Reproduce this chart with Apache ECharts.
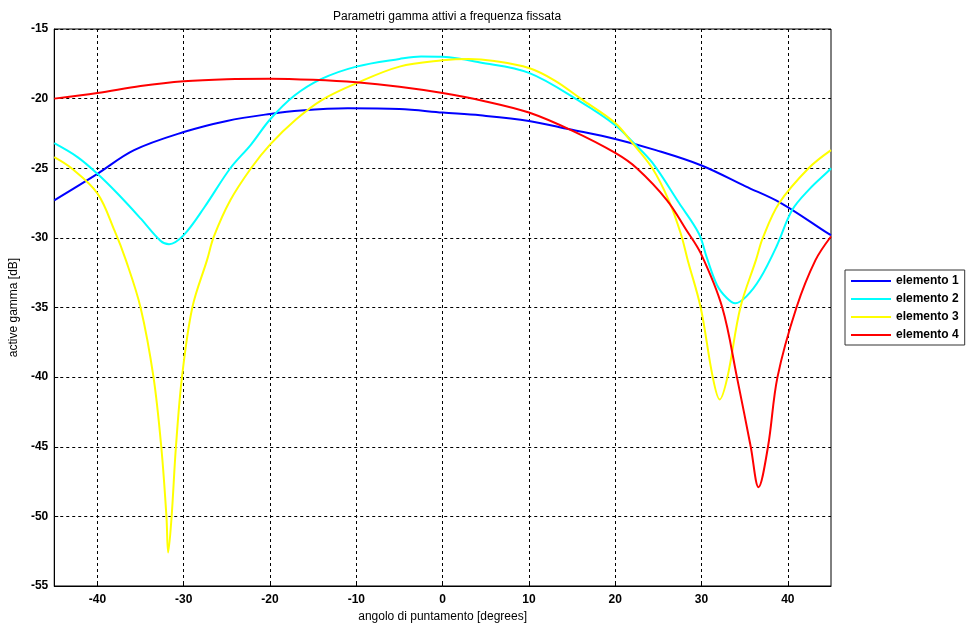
<!DOCTYPE html>
<html>
<head>
<meta charset="utf-8">
<script src="https://cdn.jsdelivr.net/npm/echarts@6/dist/echarts.min.js"></script>
<style>
  html, body { margin: 0; padding: 0; background: #fff; }
  #chart { width: 973px; height: 628px; }
</style>
</head>
<body>
<div id="chart"></div>
<script>
// angles [deg] and active gamma [dB]
let ang1 = [-45, -40, -35.75, -30, -25, -20, -16.4, -11, -5, 0, 4.35, 10, 14.7, 20, 24.7, 30, 35.1, 39.2, 44.7, 45];
let el1  = [-27.3, -25.4, -23.7, -22.4, -21.6, -21.1, -20.85, -20.7, -20.75, -21.0, -21.2, -21.6, -22.2, -22.9, -23.7, -24.8, -26.3, -27.5, -29.7, -29.8];

let ang2 = [-45, -42.3, -40, -37.7, -35, -32.7, -31.7, -30, -27.6, -24.6, -22.2, -20, -17.2, -14.1, -10, -5, -2.5, 0, 4.35, 10, 15.9, 20, 22, 24.3, 27.4, 29.7, 30.6, 31.8, 32.9, 33.9, 35.2, 36.8, 38.7, 40.5, 42.5, 44.7, 45];
let el2  = [-23.2, -24.2, -25.4, -26.8, -28.6, -30.2, -30.45, -29.8, -27.8, -25.0, -23.3, -21.5, -19.8, -18.6, -17.7, -17.15, -16.97, -17.0, -17.4, -18.15, -20.2, -21.9, -23.1, -24.6, -27.5, -29.7, -31.4, -33.4, -34.3, -34.7, -34.2, -32.9, -30.6, -28.0, -26.5, -25.2, -25.0];

let ang3 = [-45, -43, -40, -38, -36.7, -35, -33.5, -32.6, -32, -31.8, -31.4, -30.9, -30.2, -29, -27.3, -26.5, -24.6, -22.2, -20, -17, -14, -10, -5, 0, 3, 6, 10, 13, 16, 20, 22, 24.3, 26.2, 27.6, 28.4, 29.9, 31.3, 32.1, 33, 34.5, 36.3, 37.1, 39, 42.4, 45];
let el3  = [-24.2, -25.0, -26.8, -29.5, -31.6, -35, -40, -45, -50, -52.6, -50, -45, -40, -35, -31.6, -29.9, -27.3, -25.0, -23.3, -21.5, -20.1, -18.9, -17.7, -17.25, -17.15, -17.3, -17.8, -18.7, -20.0, -21.75, -23.2, -25.0, -27.3, -29.7, -31.6, -35, -40, -41.6, -40, -35, -31.6, -30, -27.5, -25, -23.7];

let ang4 = [-45, -40, -35, -30, -25, -20, -15, -10, -5, 0, 5, 10, 15, 20, 22.5, 26, 28.2, 29.9, 32.4, 34.1, 35.7, 36.6, 37.7, 38.8, 41, 43.2, 45];
let el4  = [-20.0, -19.6, -19.1, -18.75, -18.6, -18.57, -18.65, -18.83, -19.15, -19.6, -20.2, -21.0, -22.3, -23.9, -25.0, -27.3, -29.4, -31.1, -35, -40, -45, -47.9, -45, -40, -35, -31.6, -29.9];

let xTicks = [-40, -30, -20, -10, 0, 10, 20, 30, 40];
let names = ['elemento 1', 'elemento 2', 'elemento 3', 'elemento 4'];
let colors = ['#0000ff', '#00ffff', '#ffff00', '#ff0000'];

function pairs(xs, ys) {
    return xs.map(function (x, i) { return [x, ys[i]]; });
}

let allAng = [ang1, ang2, ang3, ang4];
let allEl = [el1, el2, el3, el4];

let series = names.map(function (n, i) {
    return {
        name: n,
        type: 'line',
        data: pairs(allAng[i], allEl[i]),
        showSymbol: false,
        smooth: 0.35,
        lineStyle: { color: colors[i], width: 2 },
        itemStyle: { color: colors[i] },
        z: 2 + i
    };
});

let chart = echarts.init(document.getElementById('chart'));
chart.setOption({
    animation: false,
    backgroundColor: '#fff',
    textStyle: { fontFamily: 'Liberation Sans, Arial, sans-serif' },
    title: {
        text: 'Parametri gamma attivi a frequenza fissata',
        left: 442,
        textAlign: 'center',
        top: 6,
        textStyle: { fontSize: 12, fontWeight: 'normal', color: '#000' }
    },
    legend: {
        orient: 'vertical',
        left: 845,
        top: 270,
        width: 113,
        data: names,
        icon: 'rect',
        itemWidth: 40,
        itemHeight: 2,
        itemGap: 6,
        padding: [5, 6, 4, 6],
        borderColor: '#333',
        borderWidth: 1,
        backgroundColor: '#fff',
        textStyle: { fontSize: 12, fontWeight: 'bold', color: '#000' }
    },
    grid: {
        left: 53,
        right: 142,
        top: 29,
        bottom: 42,
        show: true,
        borderColor: '#000',
        borderWidth: 1
    },
    xAxis: {
        type: 'value',
        min: -45,
        max: 45,
        name: 'angolo di puntamento [degrees]',
        nameLocation: 'middle',
        nameGap: 20,
        nameTextStyle: { fontSize: 12, color: '#000' },
        axisLine: { onZero: false, lineStyle: { color: '#000' } },
        axisTick: { inside: true, length: 4, customValues: xTicks, lineStyle: { color: '#000' } },
        axisLabel: { customValues: xTicks, fontSize: 12, fontWeight: 'bold', color: '#000', margin: 8 },
        splitLine: { show: true, lineStyle: { color: '#000', type: [3, 3], width: 1 } }
    },
    yAxis: {
        type: 'value',
        min: -55,
        max: -15,
        interval: 5,
        name: 'active gamma [dB]',
        nameLocation: 'middle',
        nameGap: 32,
        nameTextStyle: { fontSize: 12, color: '#000' },
        axisLine: { show: true, onZero: false, lineStyle: { color: '#000' } },
        axisTick: { show: true, inside: true, length: 4, lineStyle: { color: '#000' } },
        axisLabel: { fontSize: 12, fontWeight: 'bold', color: '#000', margin: 6 },
        splitLine: { show: true, lineStyle: { color: '#000', type: [3, 3], width: 1 } }
    },
    series: series
});
</script>
</body>
</html>
